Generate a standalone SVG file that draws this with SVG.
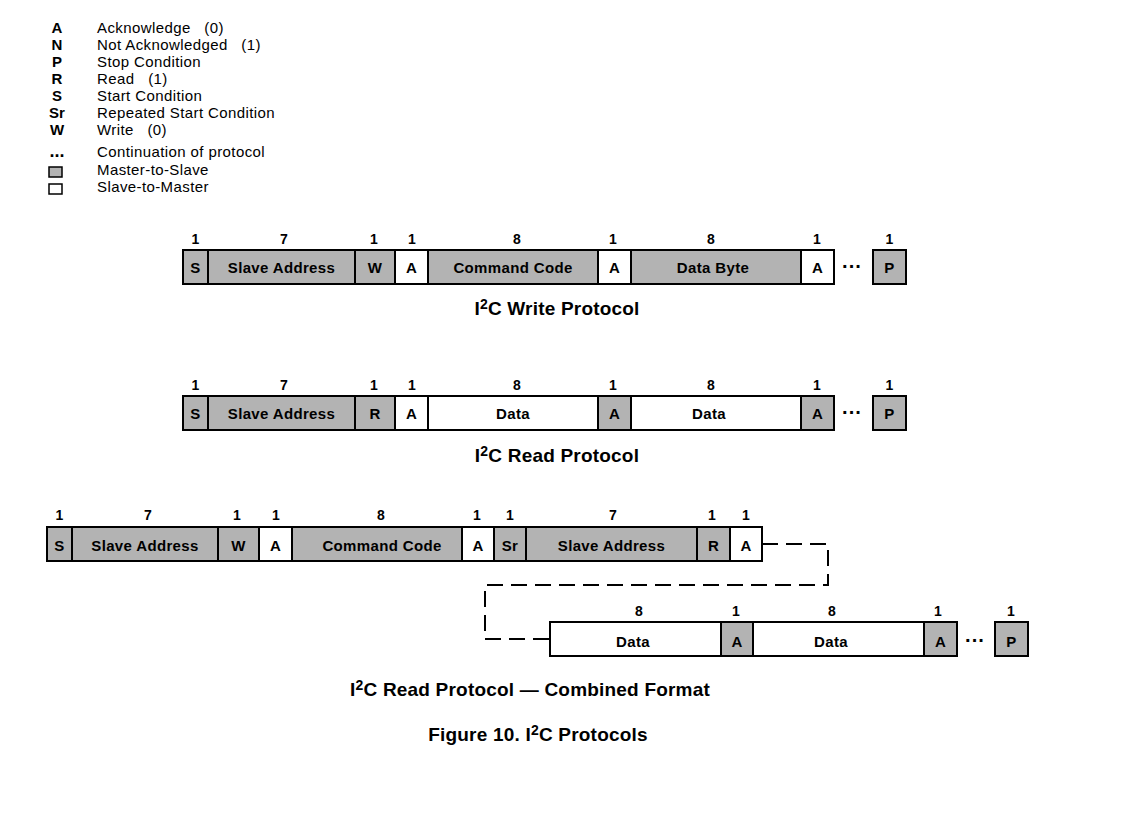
<svg xmlns="http://www.w3.org/2000/svg" width="1125" height="816" viewBox="0 0 1125 816">
<style>
text{font-family:"Liberation Sans",Arial,sans-serif;fill:#000}
.lg{font-size:15px;letter-spacing:0.4px}
.lk{font-size:15px;font-weight:bold;text-anchor:middle}
.c{font-size:15px;font-weight:bold;text-anchor:middle;letter-spacing:0.35px}
.n{font-size:14px;font-weight:bold;text-anchor:middle}
.t{font-size:19px;font-weight:bold;text-anchor:middle;letter-spacing:0.2px}
.m{fill:#b3b3b3;stroke:#000;stroke-width:2}
.s{fill:#fff;stroke:#000;stroke-width:2}
.ls{stroke:#000;stroke-width:1.5}
.d{font-size:20px;font-weight:bold;text-anchor:middle}
</style>
<rect width="1125" height="816" fill="#fff"/>
<g id="legend">
<text class="lk" x="57" y="33">A</text><text class="lg" x="97" y="33" xml:space="preserve">Acknowledge   (0)</text>
<text class="lk" x="57" y="50">N</text><text class="lg" x="97" y="50" xml:space="preserve">Not Acknowledged   (1)</text>
<text class="lk" x="57" y="67">P</text><text class="lg" x="97" y="67">Stop Condition</text>
<text class="lk" x="57" y="84">R</text><text class="lg" x="97" y="84" xml:space="preserve">Read   (1)</text>
<text class="lk" x="57" y="101">S</text><text class="lg" x="97" y="101">Start Condition</text>
<text class="lk" x="57" y="118">Sr</text><text class="lg" x="97" y="118">Repeated Start Condition</text>
<text class="lk" x="57" y="135">W</text><text class="lg" x="97" y="135" xml:space="preserve">Write   (0)</text>
<text class="lk" x="57" y="157" style="font-size:18px">...</text><text class="lg" x="97" y="157">Continuation of protocol</text>
<rect x="49" y="167" width="13" height="10" fill="#b3b3b3" class="ls"/><text class="lg" x="97" y="175">Master-to-Slave</text>
<rect x="49" y="184" width="13" height="10" fill="#fff" class="ls"/><text class="lg" x="97" y="192">Slave-to-Master</text>
</g>
<g id="write">
<rect class="m" x="183" y="250" width="25" height="34"/><text class="c" x="195.5" y="273">S</text>
<rect class="m" x="208" y="250" width="147" height="34"/><text class="c" x="281.5" y="273">Slave Address</text>
<rect class="m" x="355" y="250" width="40" height="34"/><text class="c" x="375" y="273">W</text>
<rect class="s" x="395" y="250" width="33" height="34"/><text class="c" x="411.5" y="273">A</text>
<rect class="m" x="428" y="250" width="170" height="34"/><text class="c" x="513" y="273">Command Code</text>
<rect class="s" x="598" y="250" width="33" height="34"/><text class="c" x="614.5" y="273">A</text>
<rect class="m" x="631" y="250" width="170" height="34"/><text class="c" x="713" y="273">Data Byte</text>
<rect class="s" x="801" y="250" width="33" height="34"/><text class="c" x="817.5" y="273">A</text>
<text class="d" x="852" y="273">···</text>
<rect class="m" x="873" y="250" width="33" height="34"/><text class="c" x="889.5" y="273">P</text>
<text class="n" x="195.5" y="244">1</text><text class="n" x="284" y="244">7</text><text class="n" x="374" y="244">1</text><text class="n" x="412" y="244">1</text><text class="n" x="517" y="244">8</text><text class="n" x="613" y="244">1</text><text class="n" x="711" y="244">8</text><text class="n" x="817" y="244">1</text><text class="n" x="889.5" y="244">1</text>
<text class="t" x="557" y="315">I<tspan font-size="14" dy="-6">2</tspan><tspan dy="6">C Write Protocol</tspan></text>
</g>
<g id="read">
<rect class="m" x="183" y="396" width="25" height="34"/><text class="c" x="195.5" y="419">S</text>
<rect class="m" x="208" y="396" width="147" height="34"/><text class="c" x="281.5" y="419">Slave Address</text>
<rect class="m" x="355" y="396" width="40" height="34"/><text class="c" x="375" y="419">R</text>
<rect class="s" x="395" y="396" width="33" height="34"/><text class="c" x="411.5" y="419">A</text>
<rect class="s" x="428" y="396" width="170" height="34"/><text class="c" x="513" y="419">Data</text>
<rect class="m" x="598" y="396" width="33" height="34"/><text class="c" x="614.5" y="419">A</text>
<rect class="s" x="631" y="396" width="170" height="34"/><text class="c" x="709" y="419">Data</text>
<rect class="m" x="801" y="396" width="33" height="34"/><text class="c" x="817.5" y="419">A</text>
<text class="d" x="852" y="419">···</text>
<rect class="m" x="873" y="396" width="33" height="34"/><text class="c" x="889.5" y="419">P</text>
<text class="n" x="195.5" y="390">1</text><text class="n" x="284" y="390">7</text><text class="n" x="374" y="390">1</text><text class="n" x="412" y="390">1</text><text class="n" x="517" y="390">8</text><text class="n" x="613" y="390">1</text><text class="n" x="711" y="390">8</text><text class="n" x="817" y="390">1</text><text class="n" x="889.5" y="390">1</text>
<text class="t" x="557" y="462">I<tspan font-size="14" dy="-6">2</tspan><tspan dy="6">C Read Protocol</tspan></text>
</g>
<g id="connectors">
<path d="M762,544 H828 V585 H485 V639 H550" fill="none" stroke="#000" stroke-width="2" stroke-dasharray="16,8"/>
</g>
<g id="combined">
<rect class="m" x="47" y="527" width="25" height="34"/><text class="c" x="59.5" y="551">S</text>
<rect class="m" x="72" y="527" width="146" height="34"/><text class="c" x="145" y="551">Slave Address</text>
<rect class="m" x="218" y="527" width="41" height="34"/><text class="c" x="238.5" y="551">W</text>
<rect class="s" x="259" y="527" width="33" height="34"/><text class="c" x="275.5" y="551">A</text>
<rect class="m" x="292" y="527" width="170" height="34"/><text class="c" x="382" y="551">Command Code</text>
<rect class="s" x="462" y="527" width="32" height="34"/><text class="c" x="478" y="551">A</text>
<rect class="m" x="494" y="527" width="32" height="34"/><text class="c" x="510" y="551">Sr</text>
<rect class="m" x="526" y="527" width="171" height="34"/><text class="c" x="611.5" y="551">Slave Address</text>
<rect class="m" x="697" y="527" width="33" height="34"/><text class="c" x="713.5" y="551">R</text>
<rect class="s" x="730" y="527" width="32" height="34"/><text class="c" x="746" y="551">A</text>
<text class="n" x="59.5" y="520">1</text><text class="n" x="148" y="520">7</text><text class="n" x="237" y="520">1</text><text class="n" x="276" y="520">1</text><text class="n" x="381" y="520">8</text><text class="n" x="477" y="520">1</text><text class="n" x="510" y="520">1</text><text class="n" x="613" y="520">7</text><text class="n" x="712" y="520">1</text><text class="n" x="746" y="520">1</text>
<rect class="s" x="550" y="622" width="171" height="34"/><text class="c" x="633" y="647">Data</text>
<rect class="m" x="721" y="622" width="32" height="34"/><text class="c" x="737" y="647">A</text>
<rect class="s" x="753" y="622" width="171" height="34"/><text class="c" x="831" y="647">Data</text>
<rect class="m" x="924" y="622" width="33" height="34"/><text class="c" x="940.5" y="647">A</text>
<text class="d" x="975" y="647">···</text>
<rect class="m" x="995" y="622" width="33" height="34"/><text class="c" x="1011.5" y="647">P</text>
<text class="n" x="639" y="616">8</text><text class="n" x="736" y="616">1</text><text class="n" x="832" y="616">8</text><text class="n" x="938" y="616">1</text><text class="n" x="1011" y="616">1</text>
<text class="t" x="530" y="696">I<tspan font-size="14" dy="-6">2</tspan><tspan dy="6">C Read Protocol — Combined Format</tspan></text>
</g>
<text class="t" x="538" y="741">Figure 10. I<tspan font-size="14" dy="-6">2</tspan><tspan dy="6">C Protocols</tspan></text>
</svg>
